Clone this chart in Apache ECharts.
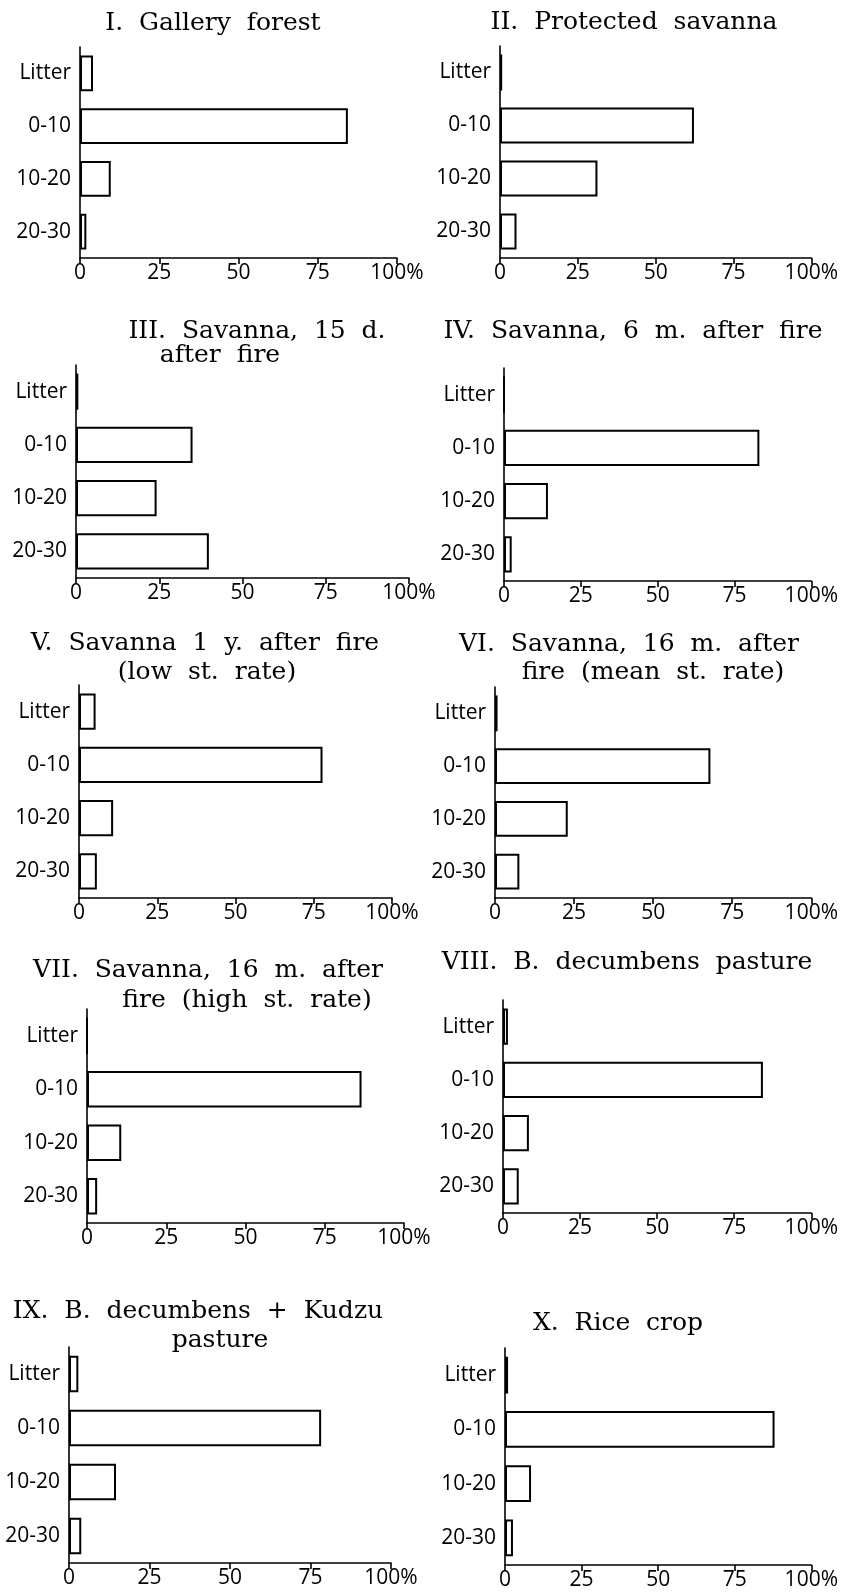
<!DOCTYPE html>
<html>
<head>
<meta charset="utf-8">
<title>Root distribution by soil depth</title>
<script src="https://cdn.jsdelivr.net/npm/echarts@6/dist/echarts.min.js"></script>
<style>
  html, body { margin: 0; padding: 0; background: #fff; }
  #chart { width: 841px; height: 1594px; }
</style>
</head>
<body>
<div id="chart"></div>
<script>
// layers (cm) and x axis ticks
const depthLabels = ['Litter', '0-10', '10-20', '20-30']
const xTickLabels = ['0', '25', '50', '75', '100%']

// % per layer
const galleryForest = [4.1, 84.5, 9.7, 2.0]
const protectedSavanna = [0.7, 62.3, 31.3, 5.3]
const savanna15d = [0.7, 35.0, 24.2, 39.9]
const savanna6m = [0, 83.1, 14.3, 2.5]
const savanna1yLow = [5.3, 77.8, 10.9, 5.7]
const savanna16mMean = [0.8, 68.1, 23.0, 7.7]
const savanna16mHigh = [0, 86.6, 10.8, 3.2]
const decumbensPasture = [1.6, 84.3, 8.4, 5.1]
const decumbensKudzu = [2.9, 78.3, 14.6, 3.8]
const riceCrop = [1.0, 88.0, 8.5, 2.6]

// old typeset titles: wide word gaps
const t = (...words) => words.join('  ')

// title lines [text, centerX, centerY] and plot box [left, top, right, bottom]
const panels = [
    { data: galleryForest, title: [[t('I.', 'Gallery', 'forest'), 213, 23]], box: [80, 47, 397, 258] },
    { data: protectedSavanna, title: [[t('II.', 'Protected', 'savanna'), 634, 22]], box: [500, 46, 833, 258] },
    { data: savanna15d, title: [[t('III.', 'Savanna,', '15', 'd.'), 257, 331], [t('after', 'fire'), 220, 355]], box: [76, 365, 409, 578] },
    { data: savanna6m, title: [[t('IV.', 'Savanna,', '6', 'm.', 'after', 'fire'), 633, 331]], box: [504, 368, 820, 581] },
    { data: savanna1yLow, title: [[t('V.', 'Savanna', '1', 'y.', 'after', 'fire'), 205, 643], [t('(low', 'st.', 'rate)'), 207, 672]], box: [79, 685, 392, 898] },
    { data: savanna16mMean, title: [[t('VI.', 'Savanna,', '16', 'm.', 'after'), 629, 644], [t('fire', '(mean', 'st.', 'rate)'), 653, 672]], box: [495, 687, 829, 898] },
    { data: savanna16mHigh, title: [[t('VII.', 'Savanna,', '16', 'm.', 'after'), 208, 970], [t('fire', '(high', 'st.', 'rate)'), 247, 1000]], box: [87, 1009, 404, 1223] },
    { data: decumbensPasture, title: [[t('VIII.', 'B.', 'decumbens', 'pasture'), 627, 962]], box: [503, 1000, 819, 1213] },
    { data: decumbensKudzu, title: [[t('IX.', 'B.', 'decumbens', '+', 'Kudzu'), 198, 1311], ['pasture', 220, 1340]], box: [69, 1347, 391, 1563] },
    { data: riceCrop, title: [[t('X.', 'Rice', 'crop'), 618, 1323]], box: [505, 1348, 824, 1565] }
]

const titleFont = '25px "DejaVu Serif", serif'
const labelFamily = '"Open Sans", sans-serif'

const chart = echarts.init(document.getElementById('chart'), null, { renderer: 'canvas' })

const grid = []
const xAxis = []
const yAxis = []
const series = []
const graphic = []

panels.forEach((p, i) => {
    const [l, top, r, b] = p.box
    grid.push({ left: l, top: top, width: r - l, height: b - top, containLabel: false })
    xAxis.push({
        type: 'value',
        gridIndex: i,
        min: 0,
        max: 100,
        interval: 25,
        splitLine: { show: false },
        axisLine: { show: true, onZero: false, lineStyle: { color: '#000', width: 1.6 } },
        axisTick: { show: true, length: 6, lineStyle: { color: '#000', width: 1.6 } },
        axisLabel: {
            color: '#000',
            fontFamily: labelFamily,
            fontSize: 21,
            margin: 5,
            formatter: (v) => xTickLabels[Math.round(v / 25)]
        }
    })
    yAxis.push({
        type: 'category',
        gridIndex: i,
        inverse: true,
        data: depthLabels,
        axisLine: { show: true, onZero: false, lineStyle: { color: '#000', width: 1.6 } },
        axisTick: { show: false },
        splitLine: { show: false },
        axisLabel: { color: '#000', fontFamily: labelFamily, fontSize: 21, margin: 9 }
    })
    series.push({
        type: 'bar',
        xAxisIndex: i,
        yAxisIndex: i,
        data: p.data,
        barCategoryGap: '32%',
        silent: true,
        itemStyle: { color: '#fff', borderColor: '#000', borderWidth: 2 }
    })
    p.title.forEach(([text, x, y]) => {
        graphic.push({
            type: 'text',
            x: x,
            y: y,
            silent: true,
            style: {
                text: text,
                font: titleFont,
                fill: '#000',
                align: 'center',
                verticalAlign: 'middle',
                textAlign: 'center',
                textVerticalAlign: 'middle'
            }
        })
    })
})

chart.setOption({
    animation: false,
    backgroundColor: '#fff',
    grid: grid,
    xAxis: xAxis,
    yAxis: yAxis,
    series: series,
    graphic: graphic
})
</script>
</body>
</html>
